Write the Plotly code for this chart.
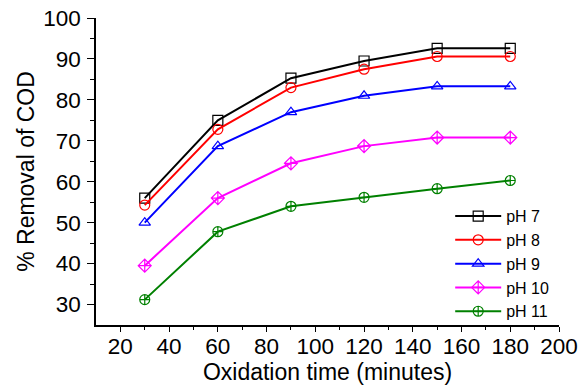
import plotly.graph_objects as go

time_min = [30, 60, 90, 120, 150, 180]
ph7 = [56.0, 75.0, 85.3, 89.5, 92.6, 92.6]
ph8 = [54.3, 72.8, 83.0, 87.5, 90.6, 90.6]
ph9 = [50.0, 68.7, 77.0, 81.0, 83.3, 83.3]
ph10 = [39.5, 56.0, 64.5, 68.7, 70.8, 70.8]
ph11 = [31.2, 47.8, 54.0, 56.2, 58.3, 60.3]

series = [
    ("pH 7", ph7, "black", "square-open"),
    ("pH 8", ph8, "red", "circle-open"),
    ("pH 9", ph9, "blue", "triangle-up-open"),
    ("pH 10", ph10, "magenta", "diamond-cross-open"),
    ("pH 11", ph11, "green", "circle-cross-open"),
]

fig = go.Figure()
for name, vals, col, sym in series:
    fig.add_trace(go.Scatter(
        x=time_min, y=vals, name=name, mode="lines+markers",
        line=dict(color=col, width=2),
        marker=dict(symbol=sym, size=10, color=col, line=dict(width=1.2, color=col)),
    ))

font = "Liberation Sans, Arial, sans-serif"
fig.update_layout(
    width=588, height=388,
    margin=dict(l=96, r=29, t=18, b=63),
    paper_bgcolor="white", plot_bgcolor="white",
    font=dict(family=font, size=22, color="black"),
    showlegend=True,
    legend=dict(x=0.765, y=0.41, xanchor="left", yanchor="top",
                font=dict(size=16), bgcolor="rgba(0,0,0,0)",
                itemwidth=46, tracegroupgap=0),
    xaxis=dict(range=[10, 200], tickmode="array", automargin=False,
               tickvals=[20, 40, 60, 80, 100, 120, 140, 160, 180, 200],
               showgrid=False, zeroline=False, showline=True, linecolor="black", linewidth=1.5,
               ticks="outside", ticklen=5, tickwidth=1.2, tickcolor="black",
               ticklabelstandoff=-5,
               minor=dict(tickvals=[30, 50, 70, 90, 110, 130, 150, 170, 190], ticks="outside", ticklen=3, tickcolor="black"),
               title=dict(text="Oxidation time (minutes)", font=dict(size=23), standoff=2),
               tickfont=dict(size=22.5)),
    yaxis=dict(range=[25, 100], tickmode="array", automargin=False,
               tickvals=[30, 40, 50, 60, 70, 80, 90, 100],
               showgrid=False, zeroline=False, showline=True, linecolor="black", linewidth=1.5,
               ticks="outside", ticklen=7, tickwidth=1.2, tickcolor="black",
               ticklabelstandoff=2,
               minor=dict(tickvals=[35, 45, 55, 65, 75, 85, 95], ticks="outside", ticklen=4, tickcolor="black"),
               title=dict(text="% Removal of COD", font=dict(size=23), standoff=2),
               tickfont=dict(size=22.5)),
)

fig.write_html("out.html")
